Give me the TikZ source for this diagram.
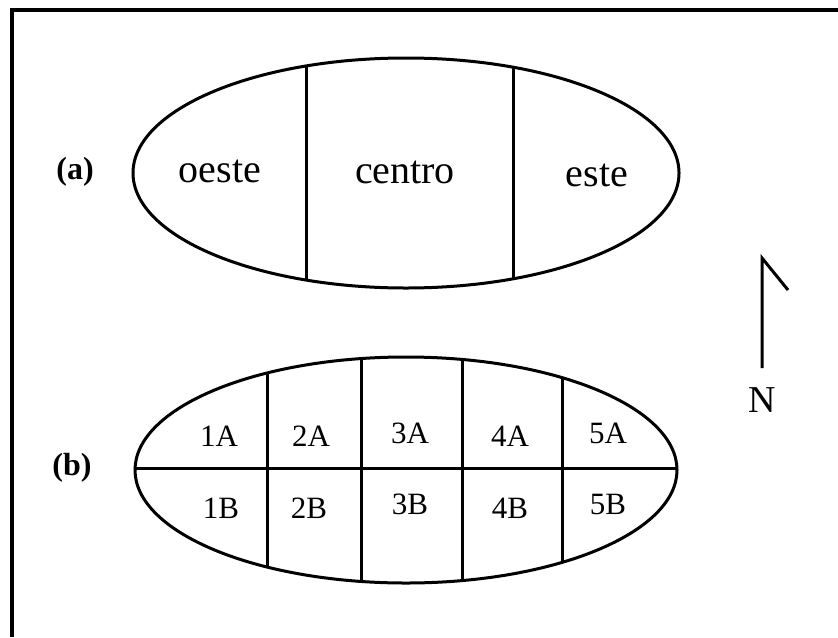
\documentclass[tikz,border=0pt]{standalone}
\usepackage{fontspec}
\setmainfont{Liberation Serif}
\usetikzlibrary{positioning}

\begin{document}
\begin{tikzpicture}[
  x=0.5pt, y=-0.5pt,
  outline/.style={line width=1.5pt},
  zone/.style={anchor=base, inner sep=0pt, font=\fontsize{20}{24}\selectfont},
  cell/.style={anchor=base, inner sep=0pt, font=\fontsize{15.5}{18}\selectfont},
  tag/.style={anchor=base, inner sep=0pt, font=\fontsize{16}{19}\selectfont\bfseries},
  frame/.style={line width=2pt}
]
\useasboundingbox (0,0) rectangle (838,637);
% frame
\coordinate (fbl) at (12,637);
\coordinate (ftl) at (12,10);
\coordinate (ftr) at (838,10);
\draw[frame] (fbl) -- (ftl) -- (ftr);

% (a) three zones
\coordinate (ca) at (406,173);
\begin{scope}
  \clip (ca) ellipse [x radius=273, y radius=115];
  \draw[outline] (306,0) -- (306,400);
  \draw[outline] (513,0) -- (513,400);
\end{scope}
\draw[outline] (ca) ellipse [x radius=273, y radius=115];
\node[tag] (la) at (75,179) {(a)};
\node[zone] (oeste) at (220,182) {oeste};
\node[zone] (centro) at (405,183) {centro};
\node[zone] (este) at (597,186) {este};

% (b) ten cells
\coordinate (cb) at (406,470);
\begin{scope}
  \clip (cb) ellipse [x radius=271, y radius=113];
  \draw[outline] (100,468) -- (700,468);
  \draw[outline] (267,300) -- (267,650);
  \draw[outline] (361,300) -- (361,650);
  \draw[outline] (462,300) -- (462,650);
  \draw[outline] (562,300) -- (562,650);
\end{scope}
\draw[outline] (cb) ellipse [x radius=271, y radius=113];
\node[tag] (lb) at (72,475) {(b)};
\node[cell] (c1a) at (219,446) {1A};
\node[cell] (c2a) at (311,446) {2A};
\node[cell] (c3a) at (410,443) {3A};
\node[cell] (c4a) at (510,446) {4A};
\node[cell] (c5a) at (608,443) {5A};
\node[cell] (c1b) at (221,518) {1B};
\node[cell] (c2b) at (309,518) {2B};
\node[cell] (c3b) at (410,514) {3B};
\node[cell] (c4b) at (510,518) {4B};
\node[cell] (c5b) at (608,514) {5B};

% north sign
\coordinate (ntop) at (762,258);
\coordinate (nbot) at (762,368);
\coordinate (nflag) at (788,290);
\node[anchor=base, inner sep=0pt, font=\fontsize{19}{22}\selectfont] (north) at (762,412) {N};
\draw[outline] (nbot) -- (ntop) -- (nflag);
\end{tikzpicture}
\end{document}
